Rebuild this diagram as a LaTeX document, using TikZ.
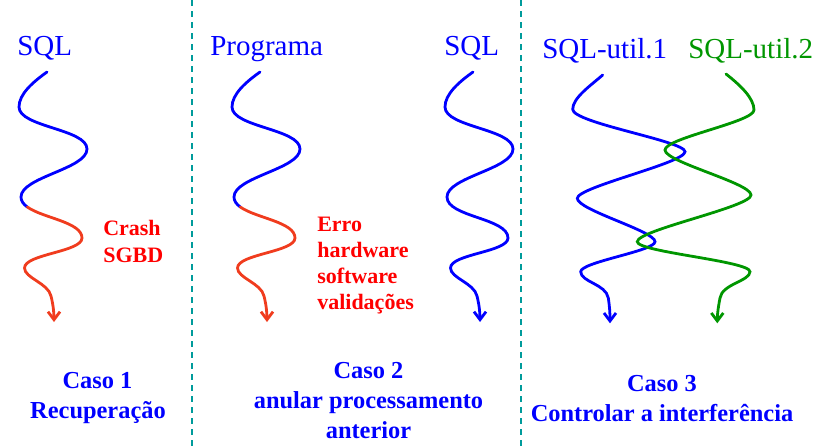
\documentclass[tikz,border=0pt]{standalone}
\usepackage{fontspec}
\setmainfont{Liberation Serif}
\usetikzlibrary{arrows.meta}
\definecolor{myblue}{RGB}{0,0,255}
\definecolor{mygreen}{RGB}{0,150,0}
\definecolor{labred}{RGB}{255,0,0}
\definecolor{curvered}{RGB}{240,60,30}
\definecolor{divteal}{RGB}{0,155,155}
\tikzset{
  wave/.style={line width=2.1pt, line cap=round},
  tipped/.style={-{Straight Barb[length=6pt,width=9pt]}},
  title/.style={font=\fontsize{21.75}{26}\selectfont, inner sep=0pt, anchor=base west},
  errlab/.style={font=\fontsize{16.5}{20}\selectfont\bfseries, text=labred, inner sep=0pt, anchor=base west},
  caso/.style={font=\fontsize{18.3}{22}\selectfont\bfseries, text=myblue, inner sep=0pt, anchor=base},
  divider/.style={draw=divteal, line width=1.5pt, dash pattern=on 4.75pt off 3.5pt},
}
\begin{document}
\begin{tikzpicture}[x=0.75pt,y=-0.75pt]
\useasboundingbox (0,0) rectangle (834,447);
% dividers
\coordinate (d1t) at (192,0); \coordinate (d1b) at (192,447);
\coordinate (d2t) at (521,0); \coordinate (d2b) at (521,447);
\draw[divider] (d1t) -- (d1b);
\draw[divider] (d2t) -- (d2b);

% titles
\node[title, text=myblue] (sql1) at (17,55) {SQL};
\node[title, text=myblue] (prog) at (210,55) {Programa};
\node[title, text=myblue] (sql2) at (444,55) {SQL};
\node[title, text=myblue] (su1) at (542,58) {SQL-util.1};
\node[title, text=mygreen] (su2) at (688,58) {SQL-util.2};

% case 1 wave (blue then red)
\coordinate (w1s) at (47,72);
\coordinate (w1m) at (27.34,207.02);
\coordinate (w1e) at (54,322);
\draw[wave, myblue] (w1s) .. controls (33,82) and (19,94) .. (19,107)
  .. controls (19,127) and (87,129) .. (87,149)
  .. controls (87,169) and (21,177) .. (21,197)
  .. controls (21,201) and (23.44,204.24) .. (w1m);
\draw[wave, curvered, tipped] (w1m) .. controls (42.96,218.16) and (82,222) .. (82,238)
  .. controls (82,252) and (24.5,254) .. (24.5,268)
  .. controls (24.5,278) and (48,283) .. (51,296)
  .. controls (53,304) and (54,312) .. (w1e);

% case 2, Programa wave
\begin{scope}[shift={(213,0)}]
\coordinate (w2s) at (47,72);
\coordinate (w2m) at (27.34,207.02);
\coordinate (w2e) at (54,322);
\draw[wave, myblue] (w2s) .. controls (33,82) and (19,94) .. (19,107)
  .. controls (19,127) and (87,129) .. (87,149)
  .. controls (87,169) and (21,177) .. (21,197)
  .. controls (21,201) and (23.44,204.24) .. (w2m);
\draw[wave, curvered, tipped] (w2m) .. controls (42.96,218.16) and (82,222) .. (82,238)
  .. controls (82,252) and (24.5,254) .. (24.5,268)
  .. controls (24.5,278) and (48,283) .. (51,296)
  .. controls (53,304) and (54,312) .. (w2e);
\end{scope}

% case 2, SQL wave
\begin{scope}[shift={(426,0)}]
\coordinate (w3s) at (47,72);
\coordinate (w3e) at (54,322);
\draw[wave, myblue, tipped] (w3s) .. controls (33,82) and (19,94) .. (19,107)
  .. controls (19,127) and (87,129) .. (87,149)
  .. controls (87,169) and (21,177) .. (21,197)
  .. controls (21,217) and (82,218) .. (82,238)
  .. controls (82,252) and (24.5,254) .. (24.5,268)
  .. controls (24.5,278) and (48,283) .. (51,296)
  .. controls (53,304) and (54,312) .. (w3e);
\end{scope}

% case 3 waves
\coordinate (b3s) at (602.7,75);
\coordinate (b3e) at (610,323.3);
\draw[wave, myblue, tipped] (b3s) .. controls (590,86) and (572.7,98) .. (572.7,109.3)
  .. controls (572.7,123) and (685,141) .. (685,151.7)
  .. controls (685,163) and (577.3,187) .. (577.3,198.3)
  .. controls (577.3,210) and (655,231) .. (655,241.7)
  .. controls (655,251) and (580.7,262) .. (580.7,271.7)
  .. controls (580.7,282) and (606,284) .. (608.3,298)
  .. controls (609.5,306) and (610,312) .. (b3e);
\coordinate (g3s) at (726,74);
\coordinate (g3e) at (717.3,323.3);
\draw[wave, mygreen, tipped] (g3s) .. controls (740,85) and (754,98) .. (754,110)
  .. controls (754,122) and (665,138) .. (665,150)
  .. controls (665,162) and (751,183) .. (751,195)
  .. controls (751,207) and (637.3,230) .. (637.3,241.7)
  .. controls (637.3,252) and (750,261) .. (750,271.7)
  .. controls (750,281) and (722,284) .. (720,298)
  .. controls (718.5,306) and (717.3,313) .. (g3e);

% red labels
\node[errlab] (crash) at (103,235) {Crash};
\node[errlab] (sgbd) at (103,262) {SGBD};
\node[errlab] (erro) at (317,231) {Erro};
\node[errlab] (hw) at (317,257) {hardware};
\node[errlab] (sw) at (317,283) {software};
\node[errlab] (val) at (317,309) {validações};

% bottom labels
\node[caso] (c1a) at (97.5,388) {Caso 1};
\node[caso] (c1b) at (98,418) {Recuperação};
\node[caso] (c2a) at (368.5,378) {Caso 2};
\node[caso] (c2b) at (368.5,408) {anular processamento};
\node[caso] (c2c) at (368.5,438) {anterior};
\node[caso] (c3a) at (662,391) {Caso 3};
\node[caso] (c3b) at (662,421) {Controlar a interferência};
\end{tikzpicture}
\end{document}
